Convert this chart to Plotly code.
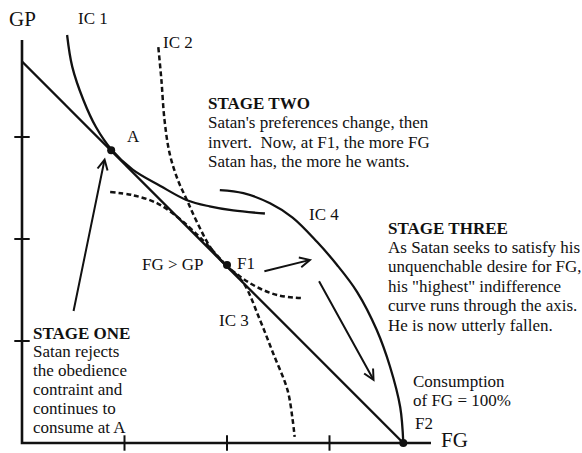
import plotly.graph_objects as go

W, H = 582, 453

# ---- data (FG on x, GP on y) ----
axis_fg_max = 3.99
axis_gp_max = 3.95
tick_vals = [1, 2, 3]

budget_fg = [0.0, 3.72]
budget_gp = [3.74, 0.0]

ic1_fg = [0.44, 0.49, 0.60, 0.72, 0.87, 1.08, 1.35, 1.61, 1.83, 2.06, 2.37]
ic1_gp = [4.00, 3.69, 3.36, 3.10, 2.88, 2.68, 2.52, 2.38, 2.32, 2.28, 2.25]

ic2_fg = [1.33, 1.36, 1.39, 1.44, 1.52, 1.61, 1.71, 1.85, 1.99, 2.13, 2.29, 2.49, 2.73]
ic2_gp = [3.88, 3.56, 3.17, 2.84, 2.58, 2.38, 2.16, 1.90, 1.745, 1.63, 1.53, 1.45, 1.42]

ic3_fg = [0.86, 1.08, 1.32, 1.51, 1.66, 1.82, 1.99, 2.16, 2.32, 2.45, 2.59, 2.64, 2.66]
ic3_gp = [2.46, 2.43, 2.35, 2.22, 2.09, 1.93, 1.745, 1.57, 1.21, 0.88, 0.52, 0.23, 0.06]

ic4_fg = [1.93, 2.16, 2.42, 2.64, 2.88, 3.07, 3.27, 3.46, 3.59, 3.69, 3.72]
ic4_gp = [2.48, 2.45, 2.35, 2.21, 1.97, 1.75, 1.48, 1.11, 0.75, 0.35, 0.0]

point_fg = [0.87, 2.00, 3.72]
point_gp = [2.87, 1.745, 0.0]

# arrows: tail -> tip
arrow_tail_fg = [0.50, 2.35, 2.89]
arrow_tail_gp = [1.28, 1.68, 1.60]
arrow_tip_fg = [0.81, 2.83, 3.44]
arrow_tip_gp = [2.80, 1.80, 0.60]

stage_one = ["STAGE ONE", "Satan rejects", "the obedience", "contraint and",
             "continues to", "consume at A"]
stage_two = ["STAGE TWO", "Satan's preferences change, then",
             "invert.  Now, at F1, the more FG", "Satan has, the more he wants."]
stage_three = ["STAGE THREE", "As Satan seeks to satisfy his", "unquenchable desire for FG,",
               "his \"highest\" indifference", "curve runs through the axis.",
               "He is now utterly fallen."]
consumption = ["Consumption", "of FG = 100%"]

FONT = "Liberation Serif"
INK = "#111111"

fig = go.Figure()

# axes
fig.add_trace(go.Scatter(x=[0, 0, axis_fg_max], y=[axis_gp_max, 0, 0], mode="lines",
                         line=dict(color=INK, width=2.6), hoverinfo="skip"))
fig.add_trace(go.Scatter(x=tick_vals, y=[0] * len(tick_vals), mode="markers",
                         marker=dict(symbol="line-ns", size=11, line=dict(color=INK, width=2)),
                         hoverinfo="skip"))
fig.add_trace(go.Scatter(x=[0] * len(tick_vals), y=tick_vals, mode="markers",
                         marker=dict(symbol="line-ew", size=11, line=dict(color=INK, width=2)),
                         hoverinfo="skip"))

# budget line
fig.add_trace(go.Scatter(x=budget_fg, y=budget_gp, mode="lines",
                         line=dict(color=INK, width=2.4), hoverinfo="skip"))

# indifference curves
for xs, ys, dash in [(ic1_fg, ic1_gp, "solid"), (ic2_fg, ic2_gp, "5px,3px"),
                     (ic3_fg, ic3_gp, "5px,3px"), (ic4_fg, ic4_gp, "solid")]:
    fig.add_trace(go.Scatter(x=xs, y=ys, mode="lines",
                             line=dict(color=INK, width=2.5 if dash != "solid" else 2.3,
                                       dash=dash, shape="spline", smoothing=1.0),
                             hoverinfo="skip"))

# points
fig.add_trace(go.Scatter(x=point_fg, y=point_gp, mode="markers",
                         marker=dict(color=INK, size=8), hoverinfo="skip", cliponaxis=False))

annotations = []
for tx, ty, hx, hy in zip(arrow_tail_fg, arrow_tail_gp, arrow_tip_fg, arrow_tip_gp):
    annotations.append(dict(x=hx, y=hy, ax=tx, ay=ty, xref="x", yref="y", axref="x", ayref="y",
                            text="", showarrow=True, arrowhead=5, arrowsize=1, arrowwidth=2,
                            arrowcolor=INK, standoff=0, startstandoff=0))


def txt(text, px, py, size=17, xa="left"):
    annotations.append(dict(text=text, x=px / W, y=1 - py / H, xref="paper", yref="paper",
                            xanchor=xa, yanchor="middle", align="left", showarrow=False,
                            font=dict(family=FONT, size=size, color=INK)))


def block(lines, px, py0, step, bold_first=True):
    for i, line in enumerate(lines):
        t = "<b>%s</b>" % line if (bold_first and i == 0) else line
        txt(t, px, py0 + i * step)


txt("GP", 22, 19, size=21, xa="center")
txt("IC 1", 93, 19, xa="center")
txt("IC 2", 178, 42, xa="center")
txt("A", 133, 136, xa="center")
txt("IC 4", 324, 214, xa="center")
txt("IC 3", 234, 320, xa="center")
txt("FG > GP", 206, 264, xa="right")
txt("F1", 235, 263)
txt("F2", 413, 423)
txt("FG", 439, 440, size=21)
block(stage_two, 206, 103, 19.6)
block(stage_three, 386, 228, 19.4)
block(stage_one, 31, 333, 18.9)
block(consumption, 411, 381, 19.5, bold_first=False)

fig.update_layout(
    width=W, height=H,
    margin=dict(l=0, r=0, t=0, b=0),
    paper_bgcolor="white", plot_bgcolor="white",
    showlegend=False,
    xaxis=dict(range=[-22 / 102.5, (W - 22) / 102.5], visible=False, fixedrange=True),
    yaxis=dict(range=[-(H - 443) / 102.0, 443 / 102.0], visible=False, fixedrange=True),
    annotations=annotations,
)

fig.write_html("out.html", config={"displayModeBar": False},
               post_script="document.body.style.margin='0px';")
